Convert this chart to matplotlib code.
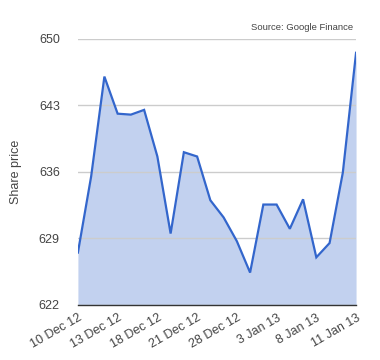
import matplotlib
matplotlib.use('Agg')
import matplotlib.pyplot as plt

# Daily closing share price, 10 Dec 2012 - 11 Jan 2013
dates = ['10 Dec 12', '11 Dec 12', '12 Dec 12', '13 Dec 12', '14 Dec 12',
         '17 Dec 12', '18 Dec 12', '19 Dec 12', '20 Dec 12', '21 Dec 12',
         '24 Dec 12', '27 Dec 12', '28 Dec 12', '31 Dec 12', '2 Jan 13',
         '3 Jan 13', '4 Jan 13', '7 Jan 13', '8 Jan 13', '9 Jan 13',
         '10 Jan 13', '11 Jan 13']
prices = [627.5, 635.5, 646.0, 642.1, 642.0, 642.5, 637.6, 629.5, 638.05,
          637.6, 633.0, 631.2, 628.7, 625.4, 632.55, 632.55, 630.0, 633.1,
          627.0, 628.5, 635.9, 648.5]
y_ticks = [622, 629, 636, 643, 650]
label_every = 3

LINE = '#3366cc'
FILL = '#c2d1ef'
TEXT = '#444444'

plt.rcParams['font.family'] = ['Liberation Sans', 'DejaVu Sans']

fig = plt.figure(figsize=(3.8, 3.6), dpi=100)
ax = fig.add_axes([0.205, 0.153, 0.732, 0.740])

x = list(range(len(prices)))
ax.fill_between(x, prices, y_ticks[0], color=FILL, linewidth=0, zorder=1)
ax.plot(x, prices, color=LINE, linewidth=1.6, zorder=3,
        solid_joinstyle='miter')

ax.set_xlim(0, len(prices) - 1)
ax.set_ylim(y_ticks[0], y_ticks[-1])
ax.set_yticks(y_ticks)
ax.set_yticklabels([str(v) for v in y_ticks], fontsize=9, color=TEXT)
ax.yaxis.grid(True, color='#cccccc', linewidth=1, zorder=2)
ax.set_axisbelow(False)

tick_idx = x[::label_every]
ax.set_xticks(tick_idx)
ax.set_xticklabels([dates[i] for i in tick_idx], rotation=30, ha='right',
                   rotation_mode='anchor', fontsize=9, color=TEXT)
ax.tick_params(axis='both', length=0)
ax.tick_params(axis='y', pad=13)
ax.tick_params(axis='x', pad=5)

for side in ['top', 'right', 'left']:
    ax.spines[side].set_visible(False)
ax.spines['bottom'].set_color('#333333')
ax.spines['bottom'].set_linewidth(1)
ax.spines['bottom'].set_zorder(4)

ax.set_ylabel('Share price', fontsize=9, color=TEXT, labelpad=12)
fig.text(0.929, 0.925, 'Source: Google Finance', ha='right', va='center',
         fontsize=6.8, color=TEXT)

fig.savefig('out.png', dpi=100)
